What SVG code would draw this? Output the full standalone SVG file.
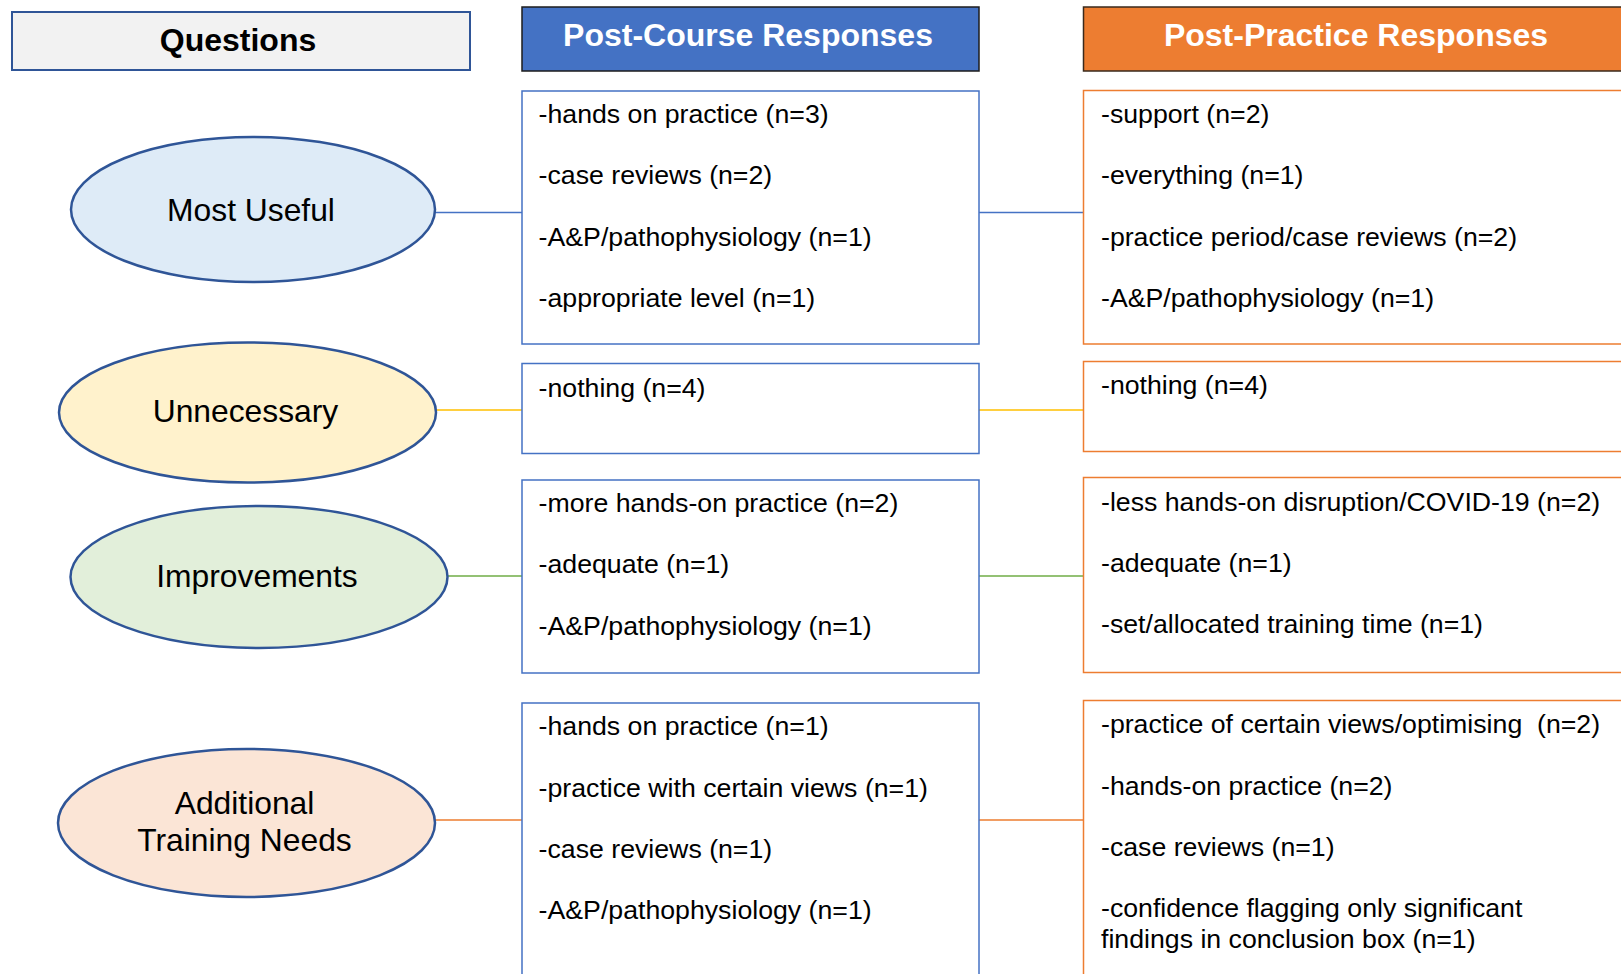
<svg xmlns="http://www.w3.org/2000/svg" width="1621" height="974" viewBox="0 0 1621 974">
  <style>
    text { font-family: "Liberation Sans", Arial, sans-serif; fill: #000; }
    .hdr { font-size: 32px; font-weight: bold; text-anchor: middle; }
    .hdr-w { fill: #fff; }
    .q { font-size: 31.8px; text-anchor: middle; }
    .item { font-size: 26.7px; }
    .oval { stroke: #2f5597; stroke-width: 2.5; }
    .box-c { fill: #fff; stroke: #4472c4; stroke-width: 1.5; }
    .box-p { fill: #fff; stroke: #ed7d31; stroke-width: 1.5; }
    .link { fill: none; stroke-width: 1.5; }
  </style>

  <rect width="1621" height="974" fill="#fff"/>

  <!-- connectors -->
  <g id="connectors">
    <path class="link" stroke="#4472c4" d="M435 212.5H522M979 212.5H1083"/>
    <path class="link" stroke="#ffc000" d="M436 410H522M979 410H1083"/>
    <path class="link" stroke="#70ad47" d="M447 576H522M979 576H1083"/>
    <path class="link" stroke="#ed7d31" d="M435 820H522M979 820H1083"/>
  </g>

  <!-- column headers -->
  <g id="hdr-questions">
    <rect x="12" y="12" width="458" height="58" fill="#f2f2f2" stroke="#2f5597" stroke-width="2"/>
    <text class="hdr" x="238" y="51">Questions</text>
  </g>
  <g id="hdr-course">
    <rect x="522" y="7" width="457" height="64" fill="#4472c4" stroke="#1c1c1c" stroke-width="1.5"/>
    <text class="hdr hdr-w" x="748" y="45.5">Post-Course Responses</text>
  </g>
  <g id="hdr-practice">
    <rect x="1083.5" y="7" width="560" height="64" fill="#ed7d31" stroke="#3a2a1c" stroke-width="1.5"/>
    <text class="hdr hdr-w" x="1356" y="45.5">Post-Practice Responses</text>
  </g>

  <!-- question ovals -->
  <g id="q-useful">
    <ellipse class="oval" cx="253" cy="209.5" rx="182" ry="72.5" fill="#deebf7"/>
    <text class="q" x="251" y="220.5">Most Useful</text>
  </g>
  <g id="q-unnecessary">
    <ellipse class="oval" cx="247.5" cy="412.5" rx="188.5" ry="70" fill="#fff2cc"/>
    <text class="q" x="245.5" y="421.5">Unnecessary</text>
  </g>
  <g id="q-improvements">
    <ellipse class="oval" cx="259" cy="577" rx="188.5" ry="71" fill="#e2efda"/>
    <text class="q" x="257" y="587">Improvements</text>
  </g>
  <g id="q-training">
    <ellipse class="oval" cx="246.5" cy="823" rx="188.5" ry="74" fill="#fbe5d6"/>
    <text class="q" x="244.5" y="814">Additional</text>
    <text class="q" x="244.5" y="851">Training Needs</text>
  </g>

  <!-- post-course responses -->
  <g id="c-useful">
    <rect class="box-c" x="522" y="91" width="457" height="253"/>
    <text class="item" x="538.6" y="123">-hands on practice (n=3)</text>
    <text class="item" x="538.6" y="184">-case reviews (n=2)</text>
    <text class="item" x="538.6" y="245.5">-A&amp;P/pathophysiology (n=1)</text>
    <text class="item" x="538.6" y="306.5">-appropriate level (n=1)</text>
  </g>
  <g id="c-unnecessary">
    <rect class="box-c" x="522" y="363.5" width="457" height="90"/>
    <text class="item" x="538.6" y="397">-nothing (n=4)</text>
  </g>
  <g id="c-improvements">
    <rect class="box-c" x="522" y="480" width="457" height="193"/>
    <text class="item" x="538.6" y="511.5">-more hands-on practice (n=2)</text>
    <text class="item" x="538.6" y="573">-adequate (n=1)</text>
    <text class="item" x="538.6" y="635">-A&amp;P/pathophysiology (n=1)</text>
  </g>
  <g id="c-training">
    <rect class="box-c" x="522" y="703" width="457" height="300"/>
    <text class="item" x="538.6" y="735">-hands on practice (n=1)</text>
    <text class="item" x="538.6" y="796.5">-practice with certain views (n=1)</text>
    <text class="item" x="538.6" y="857.5">-case reviews (n=1)</text>
    <text class="item" x="538.6" y="919">-A&amp;P/pathophysiology (n=1)</text>
  </g>

  <!-- post-practice responses -->
  <g id="p-useful">
    <rect class="box-p" x="1083.5" y="90.5" width="560" height="253.5"/>
    <text class="item" x="1101" y="123">-support (n=2)</text>
    <text class="item" x="1101" y="184">-everything (n=1)</text>
    <text class="item" x="1101" y="245.5">-practice period/case reviews (n=2)</text>
    <text class="item" x="1101" y="306.5">-A&amp;P/pathophysiology (n=1)</text>
  </g>
  <g id="p-unnecessary">
    <rect class="box-p" x="1083.5" y="361.5" width="560" height="90"/>
    <text class="item" x="1101" y="394">-nothing (n=4)</text>
  </g>
  <g id="p-improvements">
    <rect class="box-p" x="1083.5" y="477.5" width="560" height="195"/>
    <text class="item" x="1101" y="510.5">-less hands-on disruption/COVID-19 (n=2)</text>
    <text class="item" x="1101" y="571.5">-adequate (n=1)</text>
    <text class="item" x="1101" y="633">-set/allocated training time (n=1)</text>
  </g>
  <g id="p-training">
    <rect class="box-p" x="1083.5" y="700.5" width="560" height="300"/>
    <text class="item" x="1101" y="733" xml:space="preserve">-practice of certain views/optimising  (n=2)</text>
    <text class="item" x="1101" y="795">-hands-on practice (n=2)</text>
    <text class="item" x="1101" y="855.5">-case reviews (n=1)</text>
    <text class="item" x="1101" y="916.5">-confidence flagging only significant</text>
    <text class="item" x="1101" y="947.5">findings in conclusion box (n=1)</text>
  </g>
</svg>
